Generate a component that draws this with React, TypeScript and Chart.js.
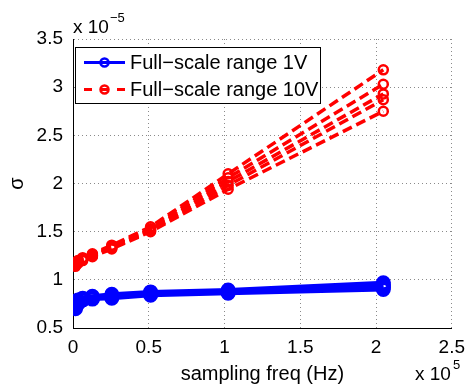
import React, { useEffect, useRef } from "react";
import { Chart, registerables } from "chart.js";

Chart.register(...registerables);

// sampling frequencies (Hz)
const freqs = [1600, 3200, 6400, 12800, 25600, 51200, 102400, 204800];

// sigma values, in units of 1e-5 — full-scale range 1V (5 runs)
const blue1 = [0.7, 0.75, 0.79, 0.8, 0.81, 0.84, 0.86, 0.9];
const blue2 = [0.71, 0.76, 0.79, 0.81, 0.82, 0.85, 0.87, 0.92];
const blue3 = [0.72, 0.77, 0.8, 0.81, 0.83, 0.855, 0.875, 0.93];
const blue4 = [0.73, 0.78, 0.8, 0.82, 0.84, 0.865, 0.885, 0.95];
const blue5 = [0.74, 0.79, 0.81, 0.83, 0.85, 0.875, 0.895, 0.97];

// sigma values, in units of 1e-5 — full-scale range 10V (5 runs)
const red1 = [1.14, 1.17, 1.2, 1.24, 1.32, 1.5, 1.94, 2.75];
const red2 = [1.15, 1.18, 1.21, 1.25, 1.33, 1.51, 1.98, 2.87];
const red3 = [1.15, 1.18, 1.21, 1.25, 1.34, 1.52, 2.02, 2.93];
const red4 = [1.16, 1.19, 1.22, 1.26, 1.35, 1.53, 2.06, 3.03];
const red5 = [1.17, 1.2, 1.23, 1.27, 1.36, 1.55, 2.1, 3.18];

const xTicks = [0, 0.5, 1, 1.5, 2, 2.5]; // x 10^5
const yTicks = [0.5, 1, 1.5, 2, 2.5, 3, 3.5]; // x 10^-5
const legendLabels = ["Full\u2212scale range 1V", "Full\u2212scale range 10V"];
const xTitle = "sampling freq (Hz)";
const yTitle = "\u03c3";

const BLUE = "#0000ff";
const RED = "#ff0000";
const FONT = "'Liberation Sans', Arial, Helvetica, sans-serif";

const blueSeries = [blue1, blue2, blue3, blue4, blue5];
const redSeries = [red1, red2, red3, red4, red5];

const overlayPlugin = {
  id: "overlay",
  afterDraw(chart: any) {
    const ctx = chart.ctx as CanvasRenderingContext2D;
    ctx.save();
    // exponent labels
    ctx.fillStyle = "#000";
    ctx.textBaseline = "alphabetic";
    ctx.textAlign = "left";
    ctx.font = `19px ${FONT}`;
    ctx.fillText("x 10", 73, 33);
    const w1 = ctx.measureText("x 10").width;
    ctx.font = `13px ${FONT}`;
    ctx.fillText("\u22125", 73 + w1 + 1, 22);
    ctx.font = `19px ${FONT}`;
    ctx.fillText("x 10", 415, 380);
    const w2 = ctx.measureText("x 10").width;
    ctx.font = `13px ${FONT}`;
    ctx.fillText("5", 415 + w2 + 2, 369);

    // legend
    ctx.fillStyle = "#fff";
    ctx.fillRect(75.5, 47.5, 245, 56);
    ctx.strokeStyle = "#000";
    ctx.lineWidth = 1;
    ctx.strokeRect(75.5, 47.5, 245, 56);

    // entry 1
    ctx.strokeStyle = BLUE;
    ctx.lineWidth = 3;
    ctx.setLineDash([]);
    ctx.beginPath();
    ctx.moveTo(84, 62.5);
    ctx.lineTo(125, 62.5);
    ctx.stroke();
    ctx.lineWidth = 2.5;
    ctx.beginPath();
    ctx.arc(104.5, 62.5, 4, 0, Math.PI * 2);
    ctx.stroke();

    // entry 2
    ctx.strokeStyle = RED;
    ctx.lineWidth = 3;
    ctx.beginPath();
    ctx.moveTo(84, 89.5);
    ctx.lineTo(92, 89.5);
    ctx.moveTo(117, 89.5);
    ctx.lineTo(125, 89.5);
    ctx.moveTo(101, 89.5);
    ctx.lineTo(108, 89.5);
    ctx.stroke();
    ctx.lineWidth = 2.5;
    ctx.beginPath();
    ctx.arc(104.5, 89.5, 4, 0, Math.PI * 2);
    ctx.stroke();

    ctx.fillStyle = "#000";
    ctx.font = `20px ${FONT}`;
    ctx.fillText(legendLabels[0], 130, 69);
    ctx.fillText(legendLabels[1], 130, 96);
    ctx.restore();
  },
};

export default function App() {
  const ref = useRef<HTMLCanvasElement>(null);

  useEffect(() => {
    document.body.style.margin = "0";
    if (!ref.current) return;
    const datasets: any[] = [];
    blueSeries.forEach((s, i) =>
      datasets.push({
        label: `1V run ${i + 1}`,
        data: freqs.map((f, j) => ({ x: f, y: s[j] })),
        borderColor: BLUE,
        borderWidth: 4,
        pointRadius: 6,
        pointBorderWidth: 3,
        pointBorderColor: BLUE,
        pointBackgroundColor: "rgba(0,0,0,0)",
        fill: false,
        tension: 0,
      })
    );
    redSeries.forEach((s, i) =>
      datasets.push({
        label: `10V run ${i + 1}`,
        data: freqs.map((f, j) => ({ x: f, y: s[j] })),
        borderColor: RED,
        borderWidth: 3.5,
        borderDash: [10, 5],
        pointRadius: 4.5,
        pointBorderWidth: 2.5,
        pointBorderColor: RED,
        pointBackgroundColor: "rgba(0,0,0,0)",
        fill: false,
        tension: 0,
      })
    );

    const chart = new Chart(ref.current, {
      type: "line",
      data: { datasets },
      options: {
        responsive: false,
        animation: false,
        events: [],
        layout: { padding: { left: 0, right: 14, top: 39, bottom: 0 } },
        plugins: { legend: { display: false }, tooltip: { enabled: false } },
        font: { family: FONT },
        scales: {
          x: {
            type: "linear",
            min: 0,
            max: 250000,
            afterBuildTicks: (s: any) => {
              s.ticks = xTicks.map((v) => ({ value: v * 1e5 }));
            },
            afterFit: (s: any) => {
              s.height = 61;
            },
            ticks: {
              color: "#000",
              font: { family: FONT, size: 19 },
              padding: 8,
              maxRotation: 0,
              callback: (v: any) => String(Math.round((Number(v) / 1e5) * 10) / 10),
            },
            grid: { color: "#8a8a8a", lineWidth: 1, drawTicks: false },
            border: { display: true, color: "#000", width: 1, dash: [1, 3] },
            title: {
              display: true,
              text: xTitle,
              color: "#000",
              font: { family: FONT, size: 20 },
              padding: { top: 0, bottom: 3 },
            },
          },
          y: {
            type: "linear",
            min: 0.5,
            max: 3.5,
            afterBuildTicks: (s: any) => {
              s.ticks = yTicks.map((v) => ({ value: v }));
            },
            afterFit: (s: any) => {
              s.width = 73;
            },
            ticks: {
              color: "#000",
              font: { family: FONT, size: 19 },
              padding: 10,
              callback: (v: any) => String(v),
            },
            grid: { color: "#8a8a8a", lineWidth: 1, drawTicks: false },
            border: { display: true, color: "#000", width: 1, dash: [1, 3] },
            title: {
              display: true,
              text: yTitle,
              color: "#000",
              font: { family: FONT, size: 20 },
              padding: { top: 5, bottom: 0 },
            },
          },
        },
      },
      plugins: [overlayPlugin],
    } as any);
    return () => chart.destroy();
  }, []);

  return (
    <div style={{ width: 473, height: 389, background: "#fff" }}>
      <canvas ref={ref} width={473} height={389} style={{ display: "block" }} />
    </div>
  );
}
